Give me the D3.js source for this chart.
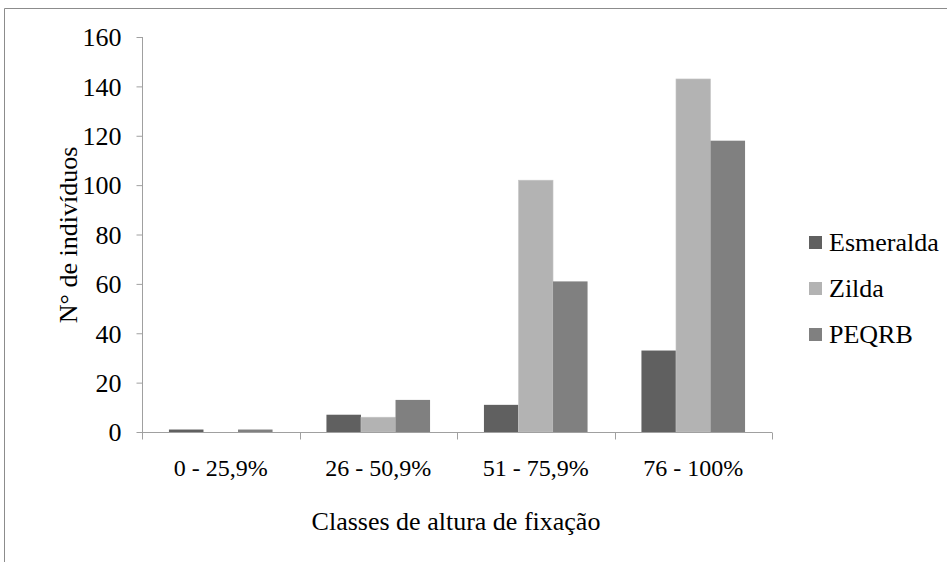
<!DOCTYPE html>
<html><head><meta charset="utf-8">
<script src="https://cdn.jsdelivr.net/npm/d3@7"></script>
<style>body{margin:0;background:#fff}svg{display:block;font-family:"Liberation Serif",serif}svg text{font-family:"Liberation Serif",serif !important;fill:#000}</style>
</head><body><svg id="c" width="947" height="562"></svg>
<script>
const categories = ["0 - 25,9%", "26 - 50,9%", "51 - 75,9%", "76 - 100%"];
const seriesNames = ["Esmeralda", "Zilda", "PEQRB"];
const esmeralda = [1, 7, 11, 33];
const zilda = [0, 6, 102, 143];
const peqrb = [1, 13, 61, 118];
const yTicks = [0, 20, 40, 60, 80, 100, 120, 140, 160];
const colors = ["#606060", "#b3b3b3", "#808080"];
const values = [esmeralda, zilda, peqrb];

const svg = d3.select("#c");
svg.append("path").attr("d", "M4.5,562 V8.5 H947").attr("fill", "none").attr("stroke", "#8c8c8c").attr("stroke-width", 1);

const x0 = d3.scaleBand().domain(categories).range([142, 772]).paddingInner(0).paddingOuter(0);
const x1 = d3.scaleBand().domain(seriesNames).range([0, x0.bandwidth()]).paddingInner(0).paddingOuter(0.78);
const y = d3.scaleLinear().domain([0, 160]).range([432, 37]);

const g = svg.append("g");
seriesNames.forEach((s, si) => {
  g.selectAll(".b" + si).data(categories).enter().append("rect")
    .attr("x", d => x0(d) + x1(s))
    .attr("width", x1.bandwidth())
    .attr("y", (d, i) => y(values[si][i]))
    .attr("height", (d, i) => y(0) - y(values[si][i]))
    .attr("fill", colors[si])
    .attr("stroke", si === 1 ? "#c6c6c6" : "none")
    .attr("stroke-width", 0.6);
});

function styleText(sel, size) {
  sel.attr("font-family", "Liberation Serif").style("font-size", size + "px");
}

const yAxis = d3.axisLeft(y).tickValues(yTicks).tickSize(6).tickPadding(15);
const ya = svg.append("g").attr("transform", "translate(142.5,0)").call(yAxis);
ya.attr("font-family", "Liberation Serif").attr("font-size", null);
ya.select(".domain").attr("stroke", "#a0a0a0").attr("d", "M0,37V432");
ya.selectAll(".tick line").attr("stroke", "#a0a0a0");
ya.selectAll(".tick text").call(styleText, 26).attr("dy", "0.34em");

const xa = svg.append("g").attr("transform", "translate(0,432.5)");
xa.append("line").attr("x1", 142).attr("x2", 772).attr("stroke", "#a0a0a0");
const bounds = categories.map(c => x0(c)).concat([x0.range()[1]]);
xa.selectAll(".xt").data(bounds).enter().append("line")
  .attr("x1", d => Math.round(d) + 0.5).attr("x2", d => Math.round(d) + 0.5)
  .attr("y1", 0).attr("y2", 7).attr("stroke", "#a0a0a0");
xa.selectAll(".xl").data(categories).enter().append("text")
  .attr("x", d => x0(d) + x0.bandwidth() / 2).attr("y", 43)
  .attr("text-anchor", "middle").call(styleText, 24).text(d => d);

svg.append("text").attr("x", 456).attr("y", 530).attr("text-anchor", "middle")
  .call(styleText, 26).text("Classes de altura de fixação");
svg.append("text").attr("transform", "translate(77,235) rotate(-90)").attr("text-anchor", "middle")
  .call(styleText, 26).text("N° de indivíduos");

const lg = svg.append("g").attr("transform", "translate(809,0)");
seriesNames.forEach((s, i) => {
  const cy = 242 + i * 46;
  lg.append("rect").attr("x", 0).attr("y", cy - 6).attr("width", 13).attr("height", 13).attr("fill", colors[i]);
  lg.append("text").attr("x", 20).attr("y", cy + 9).call(styleText, 26).text(s);
});
</script></body></html>
